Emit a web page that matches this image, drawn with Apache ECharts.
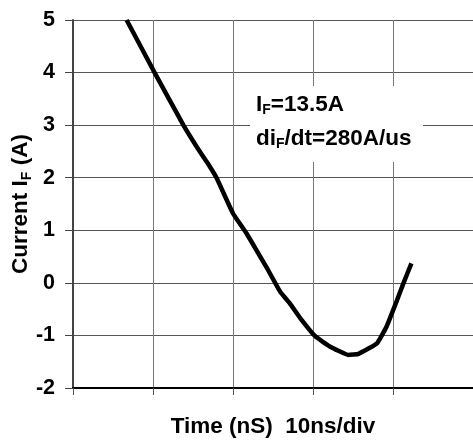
<!DOCTYPE html>
<html>
<head>
<meta charset="utf-8">
<script src="https://cdn.jsdelivr.net/npm/echarts@6/dist/echarts.min.js"></script>
<style>
html,body{margin:0;padding:0;background:#fff;}
#chart{width:473px;height:440px;}
</style>
</head>
<body>
<div id="chart"></div>
<script>
// Data
var timeNs = [6.7, 10.2, 13.8, 15.5, 16.9, 18.0, 20.0, 21.7, 23.4, 24.4, 25.9, 27.1, 28.4, 30.3, 32.1, 34.4, 35.7, 38.0, 39.2, 40.5, 41.3, 42.3];
var currentA = [5.0, 4.0, 3.0, 2.58, 2.26, 1.98, 1.32, 0.94, 0.50, 0.24, -0.17, -0.39, -0.67, -1.02, -1.21, -1.37, -1.35, -1.15, -0.83, -0.33, -0.01, 0.37];
var yTicks = [-2, -1, 0, 1, 2, 3, 4, 5];
var xRange = [0, 50];
var xStep = 10;
var annotationLine1 = '{a|I}{s|F}{a|=13.5A}';
var annotationLine2 = '{a|di}{s|F}{a|/dt=280A/us}';

var FONT = '"Liberation Sans", Arial, sans-serif';
var points = timeNs.map(function (t, i) { return [t, currentA[i]]; });

var richMain = {fontFamily: FONT, fontWeight: 'bold', fontSize: 22.5, lineHeight: 26};
var richSub = {fontFamily: FONT, fontWeight: 'bold', fontSize: 14, verticalAlign: 'bottom', lineHeight: 15};

var chart = echarts.init(document.getElementById('chart'), null, {renderer: 'canvas'});
chart.setOption({
  animation: false,
  backgroundColor: '#fff',
  grid: {left: 73, right: 0, top: 20, bottom: 52, containLabel: false, outerBoundsMode: 'none'},
  xAxis: {
    type: 'value',
    min: xRange[0], max: xRange[1], interval: xStep,
    name: 'Time (nS)  10ns/div',
    nameLocation: 'middle',
    nameGap: 27,
    nameMoveOverlap: false,
    nameTextStyle: {fontFamily: FONT, fontWeight: 'bold', fontSize: 22.5, color: '#000'},
    axisLine: {onZero: false, lineStyle: {color: '#000', width: 2}},
    axisTick: {show: true, length: 7, lineStyle: {color: '#555', width: 1}},
    axisLabel: {show: false},
    splitLine: {show: true, lineStyle: {color: '#777', width: 1}}
  },
  yAxis: {
    type: 'value',
    min: yTicks[0], max: yTicks[yTicks.length - 1], interval: 1,
    name: '{a|Current I}{s|F}{a| (A)}',
    nameLocation: 'middle',
    nameGap: 39,
    nameMoveOverlap: false,
    nameTextStyle: {
      rich: {
        a: Object.assign({color: '#000'}, richMain),
        s: Object.assign({color: '#000'}, richSub)
      }
    },
    axisLine: {show: true, lineStyle: {color: '#444', width: 2}},
    axisTick: {show: true, length: 8, lineStyle: {color: '#444', width: 1}},
    axisLabel: {margin: 18, fontFamily: FONT, fontWeight: 'bold', fontSize: 21.5, color: '#000'},
    splitLine: {show: true, lineStyle: {color: '#555', width: 1}}
  },
  graphic: [
    {type: 'rect', left: 250, top: 86, shape: {width: 173, height: 76}, style: {fill: '#fff'}, z: 10},
    {type: 'text', left: 256, top: 93, z: 11,
      style: {text: annotationLine1, rich: {
        a: Object.assign({fill: '#000'}, richMain),
        s: Object.assign({fill: '#000'}, richSub)
      }}},
    {type: 'text', left: 256, top: 127, z: 11,
      style: {text: annotationLine2, rich: {
        a: Object.assign({fill: '#000'}, richMain),
        s: Object.assign({fill: '#000'}, richSub)
      }}}
  ],
  series: [{
    type: 'line',
    data: points,
    showSymbol: false,
    smooth: 0.1,
    clip: true,
    lineStyle: {color: '#000', width: 4.5},
    z: 5
  }]
});
</script>
</body>
</html>
